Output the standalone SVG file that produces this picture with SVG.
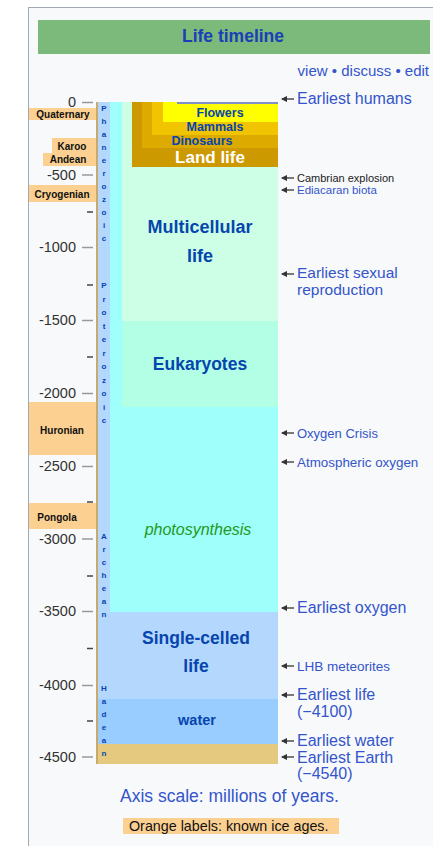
<svg xmlns="http://www.w3.org/2000/svg" width="433" height="846" viewBox="0 0 433 846">
<defs>
<style>
text{font-family:"Liberation Sans",Arial,sans-serif}
.lnk{fill:#3355cc}
.blab{fill:#0645ad;font-weight:bold;text-anchor:middle}
.tick{font-size:14.5px;fill:#333;text-anchor:end}
.maj{stroke:#999;stroke-width:1.5}
.min{stroke:#444;stroke-width:1.5}
.ice{fill:#fbd091}
.icet{font-size:10px;font-weight:bold;fill:#111;text-anchor:middle}
.eon{font-size:8px;font-weight:bold;fill:#0645ad;text-anchor:middle}
.arr{stroke:#333;stroke-width:1.3;marker-end:url(#ah)}
</style>
<marker id="ah" viewBox="0 0 6 6" refX="5" refY="3" markerWidth="5" markerHeight="5" orient="auto">
<path d="M0,0 L6,3 L0,6 z" fill="#333"/>
</marker>
</defs>
<rect x="0" y="0" width="433" height="846" fill="#fff"/>
<rect id="frame" x="28.5" y="7.5" width="500" height="900" fill="#f8f9fa" stroke="#a2a9b1"/>

<g id="header">
<rect x="38" y="20" width="392" height="34" fill="#7bba7b"/>
<text x="233" y="42" font-size="17.5" font-weight="bold" fill="#1a40b8" text-anchor="middle">Life timeline</text>
<text x="429" y="76" font-size="15" class="lnk" text-anchor="end">view • discuss • edit</text>
</g>

<g id="chart">
<rect id="earth" x="97" y="102" width="181" height="662" fill="#e4c97f"/>
<rect id="water-bar" x="98" y="102" width="180" height="642" fill="#99ccff"/>
<rect id="single-bar" x="98" y="102" width="180" height="597" fill="#b4d7fe"/>
<rect id="photo-bar" x="110" y="102" width="168" height="510" fill="#9ffffb"/>
<rect id="euk-bar" x="122" y="102" width="156" height="305" fill="#b2ffe6"/>
<rect id="multi-bar" x="122" y="102" width="156" height="219" fill="#ccffe6"/>
<rect id="land-bar" x="132" y="102" width="146" height="65" fill="#cc9900"/>
<rect id="dino-bar" x="142" y="102" width="136" height="46" fill="#ddaa00"/>
<rect id="mammal-bar" x="152" y="102" width="126" height="33" fill="#f0c400"/>
<rect id="flower-bar" x="163" y="102" width="115" height="20" fill="#ffff00"/>
<rect id="humans-bar" x="177" y="102" width="101" height="2" fill="#7f8fc8"/>
<line x1="97" y1="102" x2="97" y2="764" stroke="#c8aa6e" stroke-width="2"/>
</g>

<g id="chart-labels">
<text class="blab" x="220" y="117" font-size="12.5">Flowers</text>
<text class="blab" x="215" y="131" font-size="12.5">Mammals</text>
<text class="blab" x="202" y="145" font-size="12.5">Dinosaurs</text>
<text x="210" y="163" font-size="17" font-weight="bold" fill="#fff" text-anchor="middle">Land life</text>
<text class="blab" x="200" y="233" font-size="18">Multicellular</text>
<text class="blab" x="200" y="262" font-size="18">life</text>
<text class="blab" x="200" y="370" font-size="17.5">Eukaryotes</text>
<text x="198" y="535" font-size="16" font-style="italic" fill="#229922" text-anchor="middle">photosynthesis</text>
<text class="blab" x="196" y="644" font-size="17.5">Single-celled</text>
<text class="blab" x="196" y="672" font-size="17.5">life</text>
<text class="blab" x="197" y="725" font-size="14.5">water</text>
</g>

<g id="eons">
<g id="phanerozoic">
<text class="eon" x="104" y="111">P</text><text class="eon" x="104" y="124">h</text><text class="eon" x="104" y="137">a</text><text class="eon" x="104" y="150">n</text><text class="eon" x="104" y="163">e</text><text class="eon" x="104" y="176">r</text><text class="eon" x="104" y="189">o</text><text class="eon" x="104" y="202">z</text><text class="eon" x="104" y="215">o</text><text class="eon" x="104" y="228">i</text><text class="eon" x="104" y="241">c</text>
</g>
<g id="proterozoic">
<text class="eon" x="104" y="288">P</text><text class="eon" x="104" y="301.5">r</text><text class="eon" x="104" y="315">o</text><text class="eon" x="104" y="328.5">t</text><text class="eon" x="104" y="342">e</text><text class="eon" x="104" y="355.5">r</text><text class="eon" x="104" y="369">o</text><text class="eon" x="104" y="382.5">z</text><text class="eon" x="104" y="396">o</text><text class="eon" x="104" y="409.5">i</text><text class="eon" x="104" y="423">c</text>
</g>
<g id="archean">
<text class="eon" x="104" y="539">A</text><text class="eon" x="104" y="552">r</text><text class="eon" x="104" y="565">c</text><text class="eon" x="104" y="578">h</text><text class="eon" x="104" y="591">e</text><text class="eon" x="104" y="604">a</text><text class="eon" x="104" y="617">n</text>
</g>
<g id="hadean">
<text class="eon" x="104" y="691">H</text><text class="eon" x="104" y="704">a</text><text class="eon" x="104" y="717">d</text><text class="eon" x="104" y="730">e</text><text class="eon" x="104" y="743">a</text><text class="eon" x="104" y="756">n</text>
</g>
</g>

<g id="axis">
<text class="tick" x="76" y="107">0</text>
<text class="tick" x="76" y="180">-500</text>
<text class="tick" x="76" y="252">-1000</text>
<text class="tick" x="76" y="325">-1500</text>
<text class="tick" x="76" y="398">-2000</text>
<text class="tick" x="76" y="471">-2500</text>
<text class="tick" x="76" y="544">-3000</text>
<text class="tick" x="76" y="616">-3500</text>
<text class="tick" x="76" y="690">-4000</text>
<text class="tick" x="76" y="762">-4500</text>
<line class="maj" x1="82" y1="102.5" x2="93" y2="102.5"/>
<line class="maj" x1="82" y1="175" x2="93" y2="175"/>
<line class="maj" x1="82" y1="247.5" x2="93" y2="247.5"/>
<line class="maj" x1="82" y1="320.5" x2="93" y2="320.5"/>
<line class="maj" x1="82" y1="393.5" x2="93" y2="393.5"/>
<line class="maj" x1="82" y1="466.5" x2="93" y2="466.5"/>
<line class="maj" x1="82" y1="539" x2="93" y2="539"/>
<line class="maj" x1="82" y1="611.5" x2="93" y2="611.5"/>
<line class="maj" x1="82" y1="685.5" x2="93" y2="685.5"/>
<line class="maj" x1="82" y1="757" x2="93" y2="757"/>
<line class="min" x1="87" y1="212" x2="93" y2="212"/>
<line class="min" x1="87" y1="285" x2="93" y2="285"/>
<line class="min" x1="87" y1="357" x2="93" y2="357"/>
<line class="min" x1="87" y1="502" x2="93" y2="502"/>
<line class="min" x1="87" y1="576" x2="93" y2="576"/>
<line class="min" x1="87" y1="648.5" x2="93" y2="648.5"/>
<line class="min" x1="87" y1="721" x2="93" y2="721"/>
</g>

<g id="ice-ages">
<g id="quaternary"><rect class="ice" x="29" y="108" width="67" height="12"/><text class="icet" x="63" y="118">Quaternary</text></g>
<g id="karoo"><rect class="ice" x="52" y="138" width="44" height="15"/><text class="icet" x="72" y="149.5">Karoo</text></g>
<g id="andean"><rect class="ice" x="43" y="153" width="53" height="13"/><text class="icet" x="68" y="163">Andean</text></g>
<g id="cryogenian"><rect class="ice" x="29" y="185" width="67" height="17"/><text class="icet" x="62" y="197.5">Cryogenian</text></g>
<g id="huronian"><rect class="ice" x="29" y="402" width="67" height="53"/><text class="icet" x="62" y="433.5">Huronian</text></g>
<g id="pongola"><rect class="ice" x="29" y="503" width="67" height="26"/><text class="icet" x="57" y="521">Pongola</text></g>
</g>

<g id="connectors">
<line class="arr" x1="294" y1="99" x2="282" y2="99"/>
<line class="arr" x1="294" y1="178" x2="282" y2="178"/>
<line class="arr" x1="294" y1="190" x2="282" y2="190"/>
<line class="arr" x1="294" y1="274" x2="282" y2="274"/>
<line class="arr" x1="294" y1="433" x2="282" y2="433"/>
<line class="arr" x1="294" y1="462" x2="282" y2="462"/>
<line class="arr" x1="294" y1="608" x2="282" y2="608"/>
<line class="arr" x1="294" y1="666" x2="282" y2="666"/>
<line class="arr" x1="294" y1="695" x2="282" y2="695"/>
<line class="arr" x1="294" y1="741" x2="282" y2="741"/>
<line class="arr" x1="294" y1="757" x2="282" y2="757"/>
</g>

<g id="events">
<text class="lnk" x="297" y="104" font-size="16">Earliest humans</text>
<text x="297" y="181.5" font-size="11" fill="#222">Cambrian explosion</text>
<text class="lnk" x="297" y="194" font-size="11.5">Ediacaran biota</text>
<text class="lnk" x="297" y="278" font-size="15.5">Earliest sexual</text>
<text class="lnk" x="297" y="295" font-size="15.5">reproduction</text>
<text class="lnk" x="297" y="437.5" font-size="13">Oxygen Crisis</text>
<text class="lnk" x="297" y="467" font-size="13.4">Atmospheric oxygen</text>
<text class="lnk" x="297" y="613" font-size="16">Earliest oxygen</text>
<text class="lnk" x="297" y="670.5" font-size="13.5">LHB meteorites</text>
<text class="lnk" x="297" y="700" font-size="16">Earliest life</text>
<text class="lnk" x="297" y="716.5" font-size="16">(−4100)</text>
<text class="lnk" x="297" y="746" font-size="16">Earliest water</text>
<text class="lnk" x="297" y="762.5" font-size="16">Earliest Earth</text>
<text class="lnk" x="297" y="779" font-size="16">(−4540)</text>
</g>

<g id="footer">
<text class="lnk" x="120" y="802" font-size="17.5">Axis scale: millions of years.</text>
<rect class="ice" x="123" y="818" width="216" height="16"/>
<text x="129" y="831" font-size="14.3" fill="#111">Orange labels: known ice ages.</text>
</g>
</svg>
